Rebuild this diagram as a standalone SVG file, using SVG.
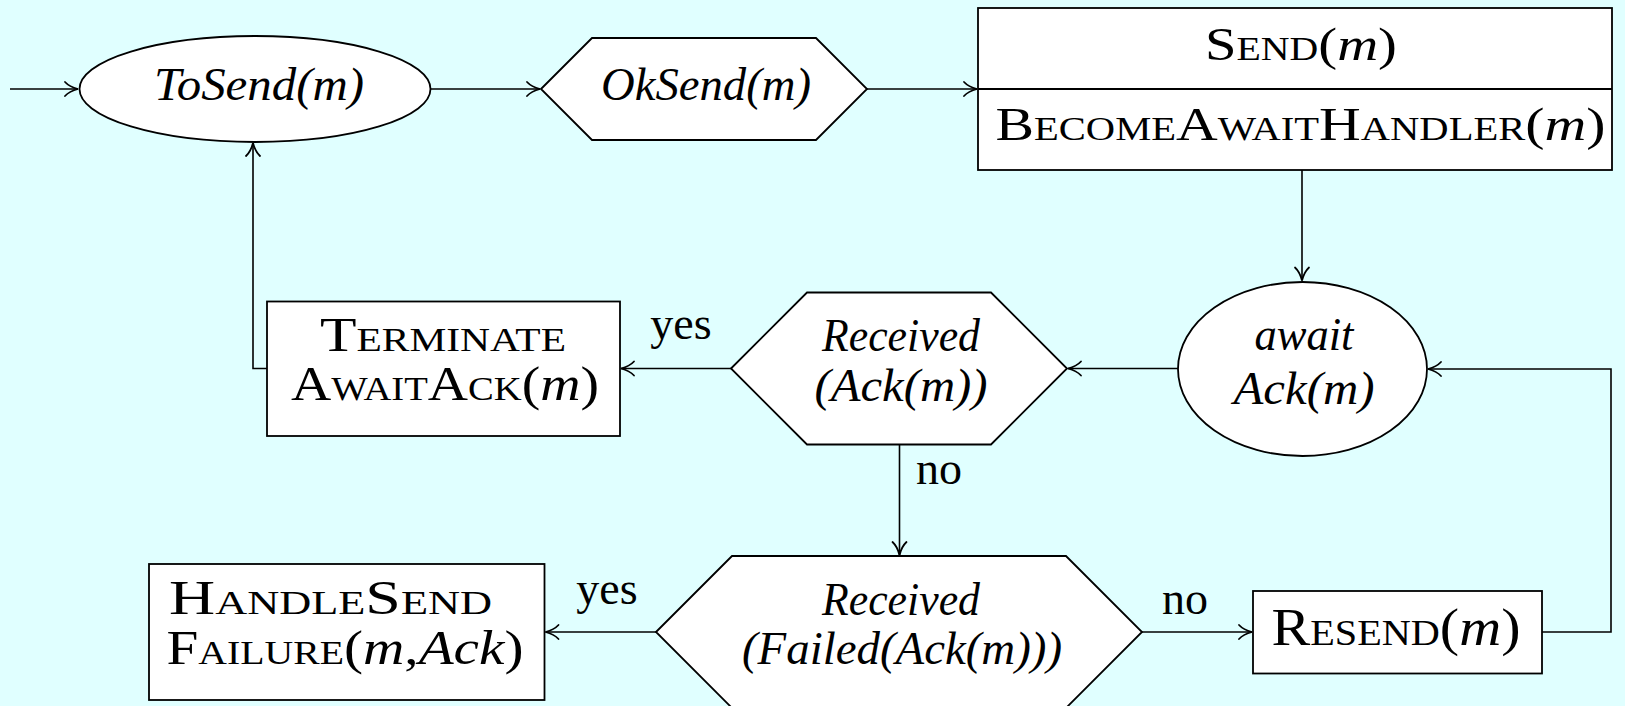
<svg xmlns="http://www.w3.org/2000/svg" width="1625" height="706" viewBox="0 0 1625 706">
<style>
.bg{fill:#e0ffff}
.node{fill:#ffffff;stroke:#000;stroke-width:1.8}
.edge{fill:none;stroke:#000;stroke-width:1.6}
text{font-family:"Liberation Serif","DejaVu Serif",serif;font-size:47px;fill:#000}
.lbl{font-size:46px}
.big{font-size:49px}
.c{text-anchor:middle}
.i{font-style:italic}
.sc{font-variant:small-caps}
</style>
<defs>
<marker id="arr" viewBox="-15 -9 17 18" refX="0" refY="0" markerWidth="17" markerHeight="18" markerUnits="userSpaceOnUse" orient="auto">
<path d="M -13 -7 C -9.5 -3.2 -3.5 -0.9 0 0 C -3.5 0.9 -9.5 3.2 -13 7" fill="none" stroke="#000" stroke-width="1.8" stroke-linecap="round"/>
</marker>
</defs>
<rect class="bg" x="0" y="0" width="1625" height="706"/>

<g id="connectors">
<line class="edge" x1="10" y1="89" x2="78" y2="89" marker-end="url(#arr)"/>
<line class="edge" x1="430.5" y1="89" x2="540" y2="89" marker-end="url(#arr)"/>
<line class="edge" x1="867" y1="89" x2="977" y2="89" marker-end="url(#arr)"/>
<line class="edge" x1="1302" y1="170" x2="1302" y2="280.5" marker-end="url(#arr)"/>
<line class="edge" x1="1178" y1="368.5" x2="1068" y2="368.5" marker-end="url(#arr)"/>
<line class="edge" x1="731" y1="368.5" x2="621" y2="368.5" marker-end="url(#arr)"/>
<polyline class="edge" points="267,368.5 253,368.5 253,143" marker-end="url(#arr)"/>
<line class="edge" x1="899.5" y1="444.5" x2="899.5" y2="555" marker-end="url(#arr)"/>
<line class="edge" x1="656" y1="632" x2="545.5" y2="632" marker-end="url(#arr)"/>
<line class="edge" x1="1142" y1="632" x2="1252" y2="632" marker-end="url(#arr)"/>
<polyline class="edge" points="1542,632 1611,632 1611,369 1428,369" marker-end="url(#arr)"/>
<text x="681" y="339" class="c lbl">yes</text>
<text x="916" y="484" class="lbl">no</text>
<text x="607" y="604" class="c lbl">yes</text>
<text x="1185" y="614" class="c lbl">no</text>
</g>

<g id="toSend">
<ellipse class="node" cx="255" cy="89" rx="175.5" ry="53"/>
<text x="259" y="100" class="c i" textLength="210" lengthAdjust="spacingAndGlyphs">ToSend(m)</text>
</g>

<g id="okSend">
<polygon class="node" points="541,89 592,38 816,38 867,89 816,140 592,140"/>
<text x="706" y="100" class="c i" textLength="210" lengthAdjust="spacingAndGlyphs">OkSend(m)</text>
</g>

<g id="send">
<rect class="node" x="978" y="8" width="634" height="162"/>
<line class="node" x1="978" y1="89" x2="1612" y2="89"/>
<text x="1301" y="60" class="c" textLength="192" lengthAdjust="spacingAndGlyphs"><tspan class="sc">Send</tspan>(<tspan class="i">m</tspan>)</text>
<text x="1300.5" y="140" class="c" textLength="610" lengthAdjust="spacingAndGlyphs"><tspan class="sc">BecomeAwaitHandler</tspan>(<tspan class="i">m</tspan>)</text>
</g>

<g id="awaitAck">
<ellipse class="node" cx="1302.5" cy="369" rx="124.5" ry="87"/>
<text x="1304" y="350" class="c i" textLength="99" lengthAdjust="spacingAndGlyphs">await</text>
<text x="1304" y="404" class="c i" textLength="141" lengthAdjust="spacingAndGlyphs">Ack(m)</text>
</g>

<g id="receivedAck">
<polygon class="node" points="731,368.5 807,292.5 991,292.5 1067,368.5 991,444.5 807,444.5"/>
<text x="901" y="351" class="c i" textLength="158" lengthAdjust="spacingAndGlyphs">Received</text>
<text x="901" y="401" class="c i" textLength="173" lengthAdjust="spacingAndGlyphs">(Ack(m))</text>
</g>

<g id="terminate">
<rect class="node" x="267" y="301.5" width="353" height="134.5"/>
<text x="443" y="351" class="c sc big" textLength="246" lengthAdjust="spacingAndGlyphs">Terminate</text>
<text x="445" y="400" class="c big" textLength="308" lengthAdjust="spacingAndGlyphs"><tspan class="sc">AwaitAck</tspan>(<tspan class="i">m</tspan>)</text>
</g>

<g id="receivedFailed">
<polygon class="node" points="656,632 732,556 1066,556 1142,632 1066,708 732,708"/>
<text x="901" y="615" class="c i" textLength="158" lengthAdjust="spacingAndGlyphs">Received</text>
<text x="902" y="664" class="c i" textLength="320" lengthAdjust="spacingAndGlyphs">(Failed(Ack(m)))</text>
</g>

<g id="handleSendFailure">
<rect class="node" x="149" y="564" width="395.5" height="136"/>
<text x="169" y="614" class="sc big" textLength="323" lengthAdjust="spacingAndGlyphs">HandleSend</text>
<text x="345" y="664" class="c big" textLength="357" lengthAdjust="spacingAndGlyphs"><tspan class="sc">Failure</tspan>(<tspan class="i">m</tspan>,<tspan class="i">Ack</tspan>)</text>
</g>

<g id="resend">
<rect class="node" x="1253" y="591" width="289" height="82.5"/>
<text x="1396" y="645" class="c" style="font-size:52px" textLength="249" lengthAdjust="spacingAndGlyphs"><tspan class="sc">Resend</tspan>(<tspan class="i">m</tspan>)</text>
</g>
</svg>
